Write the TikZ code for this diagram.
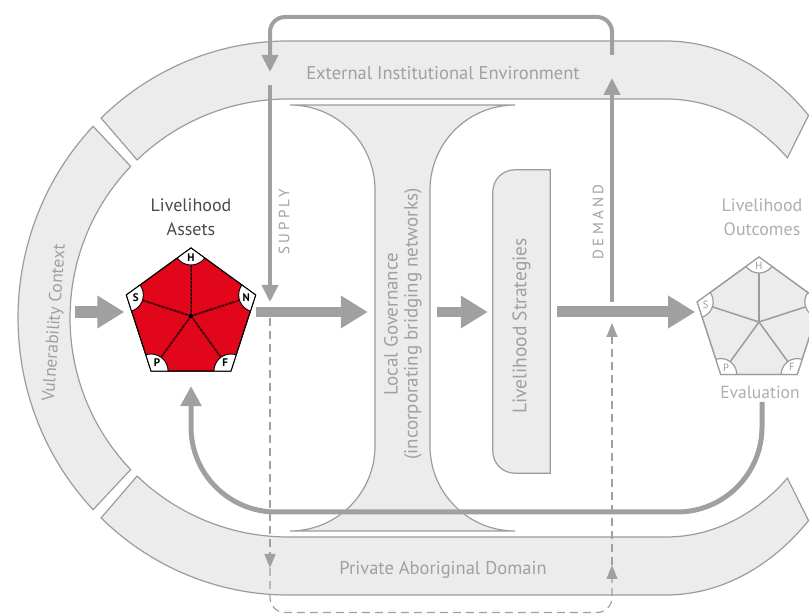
\documentclass[tikz,border=0pt]{standalone}
\usepackage{fontspec}
\setmainfont{PT Sans}
\newfontfamily\spacedfont[LetterSpace=22]{PT Sans}
\usepackage{tikz}
\usetikzlibrary{arrows.meta,positioning,calc,shapes.geometric}

\definecolor{bandfill}{HTML}{ECECEC}
\definecolor{bandline}{HTML}{9C9C9C}
\definecolor{flowgray}{HTML}{A0A0A0}
\definecolor{labelgray}{HTML}{A0A0A0}
\definecolor{assettext}{HTML}{4A4A4A}
\definecolor{assetred}{HTML}{E2061A}

\tikzset{
  band/.style={fill=bandfill,draw=bandline,line width=1.2pt},
  bandtext/.style={text=labelgray,font=\fontsize{18.5}{20}\selectfont},
  bigarrow/.style={draw=flowgray,line width=11pt,-{Triangle[length=27pt,width=31pt]}},
  loopline/.style={draw=flowgray,line width=4pt},
  looptip/.style={-{Triangle[length=17pt,width=16pt]}},
  dashline/.style={draw=flowgray,line width=1.2pt,dash pattern=on 8pt off 5pt},
  dashtip/.style={-{Triangle[length=14pt,width=11pt]}},
  pentagon/.style={regular polygon,regular polygon sides=5,inner sep=0pt,outer sep=0pt},
  capletter/.style={font=\bfseries\fontsize{11}{11}\selectfont,inner sep=0pt}
}

\begin{document}
\begin{tikzpicture}[x=1pt,y=1pt]
\useasboundingbox (0,0) rectangle (809,615);

% ring of contexts
\coordinate (L) at (288,297);
\coordinate (R) at (666,297);
\draw[band] ([shift={(L)}]133.8:270pt and 277pt) arc[start angle=133.8,end angle=90,x radius=270pt,y radius=277pt]
  -- ([shift={(R)}]90:209pt and 277pt) arc[start angle=90,end angle=47,x radius=209pt,y radius=277pt]
  -- ([shift={(R)}]47:178pt and 219pt) arc[start angle=47,end angle=90,x radius=178pt,y radius=219pt]
  -- ([shift={(L)}]90:218pt and 219pt) arc[start angle=90,end angle=133.8,x radius=218pt,y radius=219pt]
  -- cycle;
\draw[band] ([shift={(L)}]136.2:270pt and 277pt) arc[start angle=136.2,end angle=223.8,x radius=270pt,y radius=277pt]
  -- ([shift={(L)}]223.8:218pt and 219pt) arc[start angle=223.8,end angle=136.2,x radius=218pt,y radius=219pt]
  -- cycle;
\draw[band] ([shift={(L)}]226.2:270pt and 277pt) arc[start angle=226.2,end angle=270,x radius=270pt,y radius=277pt]
  -- ([shift={(R)}]270:209pt and 277pt) arc[start angle=270,end angle=313,x radius=209pt,y radius=277pt]
  -- ([shift={(R)}]313:178pt and 219pt) arc[start angle=313,end angle=270,x radius=178pt,y radius=219pt]
  -- ([shift={(L)}]270:218pt and 219pt) arc[start angle=270,end angle=226.2,x radius=218pt,y radius=219pt]
  -- cycle;

% governance I and strategies box
\node[minimum width=55pt,minimum height=426pt,inner sep=0pt] (gov) at (402.5,297) {};
\draw[band] (290,510) -- (515,510) arc[start angle=90,end angle=180,radius=85pt]
  -- (430,169) arc[start angle=180,end angle=270,radius=85pt]
  -- (290,84) arc[start angle=270,end angle=360,radius=85pt]
  -- (375,425) arc[start angle=0,end angle=90,radius=85pt] -- cycle;
\node[minimum width=57pt,minimum height=303pt,inner sep=0pt] (strat) at (521.5,293.5) {};
\draw[band] (strat.north east) -- ([xshift=22pt]strat.north west)
  arc[start angle=90,end angle=180,radius=22pt] -- ([yshift=22pt]strat.south west)
  arc[start angle=180,end angle=270,radius=22pt] -- (strat.south east) -- cycle;

% pentagons
\node[pentagon,minimum size=136pt,fill=assetred,draw=black,line width=1pt] (assets) at (191,299) {};
\node[pentagon,minimum size=130pt,fill=bandfill,draw=bandline,line width=1.2pt] (outcomes) at (759,293) {};

% supply / demand loop
\coordinate (vin) at (75,303);
\coordinate (suptop) at (270,543);
\coordinate (supstart) at (270,530);
\coordinate (loopL) at (270,598);
\coordinate (loopR) at (612,598);
\coordinate (dmdtop) at (612,560);
\coordinate (dmdtip) at (612,537);
\coordinate (dsL) at (270,47);
\coordinate (dbL) at (270,2.5);
\coordinate (dbR) at (612,2.5);
\coordinate (dsR) at (612,50);
\coordinate (dmdtail) at (612,292);

\draw[dashline,dashtip] ([yshift=-6pt]supstart |- vin) -- (dsL);
\draw[dashline,dashtip,rounded corners=15pt] (dsL) -- (dbL) -- (dbR) -- (dsR);
\draw[dashline,dashtip] (dsR) -- (dmdtail);

\draw[loopline,looptip,rounded corners=15pt] (dmdtop) -- (loopR) -- (loopL) -- (suptop);
\draw[loopline,looptip,shorten >=10pt] (supstart) -- (supstart |- vin);
\draw[loopline,looptip,shorten <=10pt] (dmdtip |- vin) -- (dmdtip);

% main flow
\draw[bigarrow,line width=12pt,shorten >=2pt] (vin) -- (assets.corner 2 |- vin);
\draw[bigarrow,line width=9.5pt,shorten >=7pt] (assets.corner 5 |- vin) -- (gov.west |- vin);
\draw[bigarrow,line width=10pt,shorten <=7pt,shorten >=5pt] (gov.east |- vin) -- (strat.west |- vin);
\draw[bigarrow,shorten <=7pt,shorten >=2pt] (strat.east |- vin) -- (outcomes.corner 2 |- vin);

% evaluation feedback
\node[bandtext,text=labelgray!85,font=\fontsize{17.5}{20}\selectfont] (eval) at (760,223) {Evaluation};
\coordinate (fbk) at (191,103);
\draw[draw=flowgray,line width=5pt,-{Triangle[length=20pt,width=20pt]},rounded corners=85pt,shorten >=15pt]
  ([xshift=2pt]eval.south) |- (fbk) -- (assets.south);

% asset pentagon caps
\begin{scope}
  \clip (assets.corner 1) -- (assets.corner 2) -- (assets.corner 3) -- (assets.corner 4) -- (assets.corner 5) -- cycle;
  \foreach \c in {1,...,5}
    \filldraw[fill=white,draw=black,line width=0.9pt] (assets.corner \c) circle[radius=17pt];
\end{scope}
\foreach \c in {1,...,5} {
  \draw[assetred!70!black,line width=2.4pt] (assets.center) -- ($(assets.corner \c)!17pt!(assets.center)$);
  \draw[black,line width=0.8pt,dash pattern=on 2.5pt off 1.5pt] (assets.center) -- ($(assets.corner \c)!17pt!(assets.center)$);
}
\fill[black] (assets.center) circle[radius=2.2pt];
\draw[black,line width=1pt] (assets.corner 1) -- (assets.corner 2) -- (assets.corner 3) -- (assets.corner 4) -- (assets.corner 5) -- cycle;
\foreach \c/\l in {1/H,2/S,3/P,4/F,5/N}
  \node[capletter] at ($(assets.corner \c)!10pt!(assets.center)$) {\l};

% outcome pentagon caps
\begin{scope}
  \clip (outcomes.corner 1) -- (outcomes.corner 2) -- (outcomes.corner 3) -- (outcomes.corner 4) -- (outcomes.corner 5) -- cycle;
  \foreach \c in {1,...,5}
    \filldraw[fill=white,draw=bandline,line width=1.2pt] (outcomes.corner \c) circle[radius=16pt];
\end{scope}
\foreach \c in {1,...,5}
  \draw[bandline,line width=1.5pt] (outcomes.center) -- ($(outcomes.corner \c)!16pt!(outcomes.center)$);
\draw[bandline,line width=1.2pt] (outcomes.corner 1) -- (outcomes.corner 2) -- (outcomes.corner 3) -- (outcomes.corner 4) -- (outcomes.corner 5) -- cycle;
\foreach \c/\l in {1/H,2/S,3/P,4/F,5/N}
  \node[capletter,font=\fontsize{10.5}{10}\selectfont,text=bandline] at ($(outcomes.corner \c)!9pt!(outcomes.center)$) {\l};

% labels
\node[bandtext] (ext) at (443,542) {External Institutional Environment};
\node[bandtext] (priv) at (443,45) {Private Aboriginal Domain};
\node[bandtext,font=\fontsize{17.5}{20}\selectfont,rotate=86] (vuln) at (55,292) {Vulnerability Context};
\node[bandtext,text=assettext,align=center,font=\fontsize{18}{24}\selectfont] (assetlbl) at (191,398) {Livelihood\\Assets};
\node[bandtext,text=labelgray!85,align=center,font=\fontsize{18}{24}\selectfont] (outlbl) at (762,398) {Livelihood\\Outcomes};
\node[bandtext,rotate=90,align=center,font=\fontsize{19}{20}\selectfont] (govlbl) at (403,291) {Local Governance\\(incorporating bridging networks)};
\node[bandtext,rotate=90,font=\fontsize{19.5}{20}\selectfont] (stratlbl) at (521.5,289) {Livelihood Strategies};
\node[text=labelgray,rotate=90,font=\spacedfont\fontsize{15}{15}\selectfont] (supply) at (284,393) {SUPPLY};
\node[text=labelgray,rotate=90,font=\spacedfont\fontsize{15}{15}\selectfont] (demand) at (598,393) {DEMAND};
\end{tikzpicture}
\end{document}
